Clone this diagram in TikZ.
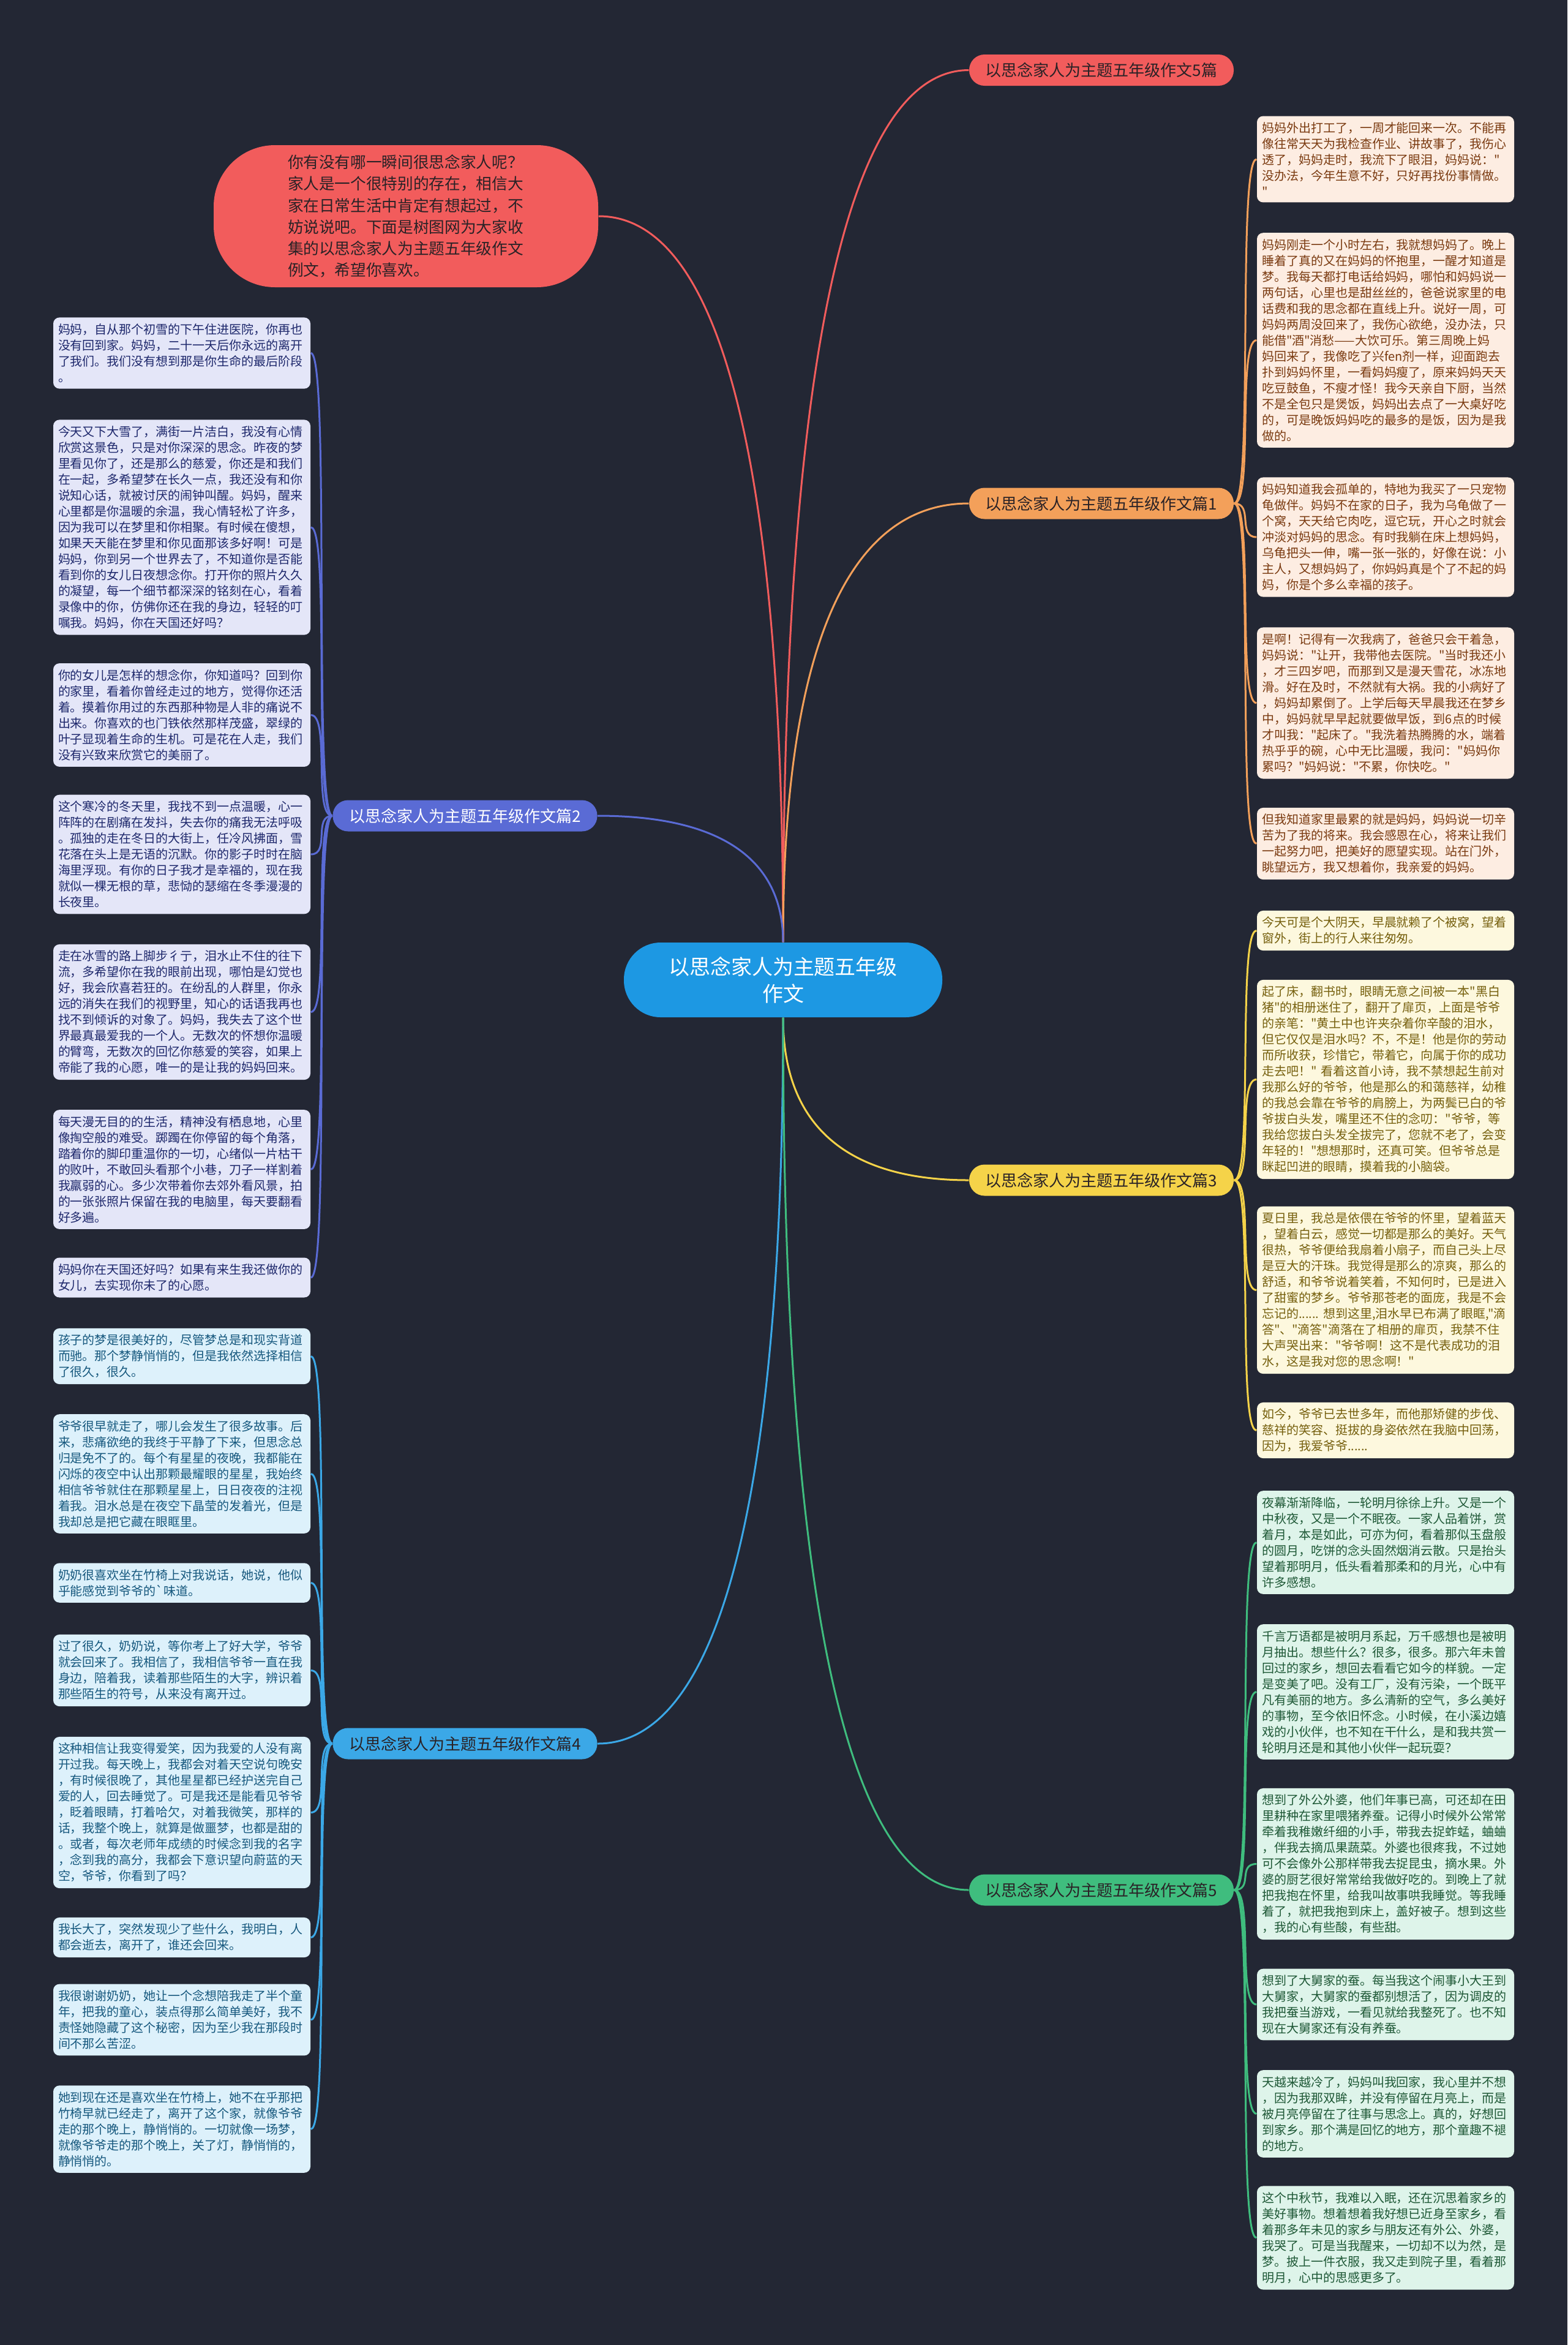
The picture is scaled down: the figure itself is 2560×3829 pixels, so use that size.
\documentclass[tikz,border=0pt]{standalone}
\usepackage{fontspec}
\setmainfont{Noto Sans CJK SC}[Ligatures=TeXOff]
\usetikzlibrary{calc}
\definecolor{bgc}{HTML}{232734}
\definecolor{hubc}{HTML}{1D98E3}
\definecolor{redc}{HTML}{F25C5C}
\definecolor{orangec}{HTML}{F3A05A}
\definecolor{indigoc}{HTML}{5A6BD5}
\definecolor{yellowc}{HTML}{F5D349}
\definecolor{skyc}{HTML}{3BA8E7}
\definecolor{greenc}{HTML}{3FBD7E}
\definecolor{darktxt}{HTML}{2A2226}
\tikzset{
 hub/.style={fill=hubc,text=white,rounded corners=6mm,minimum width=52mm,minimum height=12.2mm,
  align=center,font=\fontsize{9.67pt}{12.5pt}\selectfont},
 intro/.style={fill=redc,text=darktxt,rounded corners=10mm,minimum width=62.8mm,minimum height=23.2mm,
  text width=38.6mm,align=left,font=\fontsize{7.3pt}{10pt}\selectfont},
 branch/.style={text=darktxt,rounded corners=2.5mm,minimum width=43.2mm,minimum height=5.1mm,
  inner sep=0pt,font=\fontsize{7.4pt}{8.5pt}\selectfont},
 leaf/.style={rounded corners=1mm,inner xsep=0.8mm,inner ysep=1mm,text width=40.4mm,align=left,
  font=\fontsize{5.69pt}{7.4pt}\selectfont},
 peach/.style={leaf,fill={rgb,255:red,253;green,237;blue,226},text={rgb,255:red,122;green,58;blue,16}},
 lavender/.style={leaf,fill={rgb,255:red,228;green,230;blue,248},text={rgb,255:red,30;green,40;blue,108}},
 cream/.style={leaf,fill={rgb,255:red,253;green,248;blue,222},text={rgb,255:red,118;green,96;blue,14}},
 sky/.style={leaf,fill={rgb,255:red,221;green,241;blue,251},text={rgb,255:red,22;green,88;blue,126}},
 mint/.style={leaf,fill={rgb,255:red,222;green,244;blue,234},text={rgb,255:red,30;green,88;blue,54}},
 link/.style={line width=0.3mm},
 trunk/.style={to path={.. controls ($(\tikztostart)!.66!(\tikztostart |- \tikztotarget)$)
  and ($(\tikztotarget)!.66!(\tikztostart |- \tikztotarget)$) .. (\tikztotarget)}}
}

\begin{document}
\begin{tikzpicture}[x=0.1mm,y=-0.1mm]
\fill[bgc] (0,0) rectangle (2560,3829);
% centre, intro and branches
\node[hub] (ctr) at (1279,1600) {以思念家人为主题五年级\\作文};
\node[intro] (intro) at (663,353) {你有没有哪一瞬间很思念家人呢？\\
家人是一个很特别的存在，相信大\\
家在日常生活中肯定有想起过，不\\
妨说说吧。下面是树图网为大家收\\
集的以思念家人为主题五年级作文\\
例文，希望你喜欢。};
\node[branch,fill=redc] (b0) at (1799,114.5) {以思念家人为主题五年级作文5篇};
\node[branch,fill=orangec] (b1) at (1799,822) {以思念家人为主题五年级作文篇1};
\node[branch,fill=indigoc,text=white] (b2) at (759.5,1332) {以思念家人为主题五年级作文篇2};
\node[branch,fill=yellowc] (b3) at (1799,1927) {以思念家人为主题五年级作文篇3};
\node[branch,fill=skyc] (b4) at (759.5,2847) {以思念家人为主题五年级作文篇4};
\node[branch,fill=greenc] (b5) at (1799,3086) {以思念家人为主题五年级作文篇5};

% left column, 篇2
\node[lavender] (l1) at (297,576.5) {妈妈，自从那个初雪的下午住进医院，你再也\\
没有回到家。妈妈，二十一天后你永远的离开\\
了我们。我们没有想到那是你生命的最后阶段\\
。};
\node[lavender] (l2) at (297,861) {今天又下大雪了，满街一片洁白，我没有心情\\
欣赏这景色，只是对你深深的思念。昨夜的梦\\
里看见你了，还是那么的慈爱，你还是和我们\\
在一起，多希望梦在长久一点，我还没有和你\\
说知心话，就被讨厌的闹钟叫醒。妈妈，醒来\\
心里都是你温暖的余温，我心情轻松了许多，\\
因为我可以在梦里和你相聚。有时候在傻想，\\
如果天天能在梦里和你见面那该多好啊！可是\\
妈妈，你到另一个世界去了，不知道你是否能\\
看到你的女儿日夜想念你。打开你的照片久久\\
的凝望，每一个细节都深深的铭刻在心，看着\\
录像中的你，仿佛你还在我的身边，轻轻的叮\\
嘱我。妈妈，你在天国还好吗？};
\node[lavender] (l3) at (297,1167.5) {你的女儿是怎样的想念你，你知道吗？回到你\\
的家里，看着你曾经走过的地方，觉得你还活\\
着。摸着你用过的东西那种物是人非的痛说不\\
出来。你喜欢的也门铁依然那样茂盛，翠绿的\\
叶子显现着生命的生机。可是花在人走，我们\\
没有兴致来欣赏它的美丽了。};
\node[lavender] (l4) at (297,1395) {这个寒冷的冬天里，我找不到一点温暖，心一\\
阵阵的在剧痛在发抖，失去你的痛我无法呼吸\\
。孤独的走在冬日的大街上，任冷风拂面，雪\\
花落在头上是无语的沉默。你的影子时时在脑\\
海里浮现。有你的日子我才是幸福的，现在我\\
就似一棵无根的草，悲恸的瑟缩在冬季漫漫的\\
长夜里。};
\node[lavender] (l5) at (297,1652.5) {走在冰雪的路上脚步彳亍，泪水止不住的往下\\
流，多希望你在我的眼前出现，哪怕是幻觉也\\
好，我会欣喜若狂的。在纷乱的人群里，你永\\
远的消失在我们的视野里，知心的话语我再也\\
找不到倾诉的对象了。妈妈，我失去了这个世\\
界最真最爱我的一个人。无数次的怀想你温暖\\
的臂弯，无数次的回忆你慈爱的笑容，如果上\\
帝能了我的心愿，唯一的是让我的妈妈回来。};
\node[lavender] (l6) at (297,1909.5) {每天漫无目的的生活，精神没有栖息地，心里\\
像掏空般的难受。踯躅在你停留的每个角落，\\
踏着你的脚印重温你的一切，心绪似一片枯干\\
的败叶，不敢回头看那个小巷，刀子一样割着\\
我羸弱的心。多少次带着你去郊外看风景，拍\\
的一张张照片保留在我的电脑里，每天要翻看\\
好多遍。};
\node[lavender] (l7) at (297,2086) {妈妈你在天国还好吗？如果有来生我还做你的\\
女儿，去实现你未了的心愿。};

% left column, 篇4
\node[sky] (l8) at (297,2214.5) {孩子的梦是很美好的，尽管梦总是和现实背道\\
而驰。那个梦静悄悄的，但是我依然选择相信\\
了很久，很久。};
\node[sky] (l9) at (297,2406.5) {爷爷很早就走了，哪儿会发生了很多故事。后\\
来，悲痛欲绝的我终于平静了下来，但思念总\\
归是免不了的。每个有星星的夜晚，我都能在\\
闪烁的夜空中认出那颗最耀眼的星星，我始终\\
相信爷爷就住在那颗星星上，日日夜夜的注视\\
着我。泪水总是在夜空下晶莹的发着光，但是\\
我却总是把它藏在眼眶里。};
\node[sky] (l10) at (297,2584.5) {奶奶很喜欢坐在竹椅上对我说话，她说，他似\\
乎能感觉到爷爷的\textasciigrave 味道。};
\node[sky] (l11) at (297,2727.5) {过了很久，奶奶说，等你考上了好大学，爷爷\\
就会回来了。我相信了，我相信爷爷一直在我\\
身边，陪着我，读着那些陌生的大字，辨识着\\
那些陌生的符号，从来没有离开过。};
\node[sky] (l12) at (297,2959.5) {这种相信让我变得爱笑，因为我爱的人没有离\\
开过我。每天晚上，我都会对着天空说句晚安\\
，有时候很晚了，其他星星都已经护送完自己\\
爱的人，回去睡觉了。可是我还是能看见爷爷\\
，眨着眼睛，打着哈欠，对着我微笑，那样的\\
话，我整个晚上，就算是做噩梦，也都是甜的\\
。或者，每次老师年成绩的时候念到我的名字\\
，念到我的高分，我都会下意识望向蔚蓝的天\\
空，爷爷，你看到了吗？};
\node[sky] (l13) at (297,3163.5) {我长大了，突然发现少了些什么，我明白，人\\
都会逝去，离开了，谁还会回来。};
\node[sky] (l14) at (297,3298) {我很谢谢奶奶，她让一个念想陪我走了半个童\\
年，把我的童心，装点得那么简单美好，我不\\
责怪她隐藏了这个秘密，因为至少我在那段时\\
间不那么苦涩。};
\node[sky] (l15) at (297,3476.5) {她到现在还是喜欢坐在竹椅上，她不在乎那把\\
竹椅早就已经走了，离开了这个家，就像爷爷\\
走的那个晚上，静悄悄的。一切就像一场梦，\\
就像爷爷走的那个晚上，关了灯，静悄悄的，\\
静悄悄的。};

% right column, 篇1
\node[peach] (r1) at (2263,260) {妈妈外出打工了，一周才能回来一次。不能再\\
像往常天天为我检查作业、讲故事了，我伤心\\
透了，妈妈走时，我流下了眼泪，妈妈说："\\
没办法，今年生意不好，只好再找份事情做。\\
"};
\node[peach] (r2) at (2263,555.5) {妈妈刚走一个小时左右，我就想妈妈了。晚上\\
睡着了真的又在妈妈的怀抱里，一醒才知道是\\
梦。我每天都打电话给妈妈，哪怕和妈妈说一\\
两句话，心里也是甜丝丝的，爸爸说家里的电\\
话费和我的思念都在直线上升。说好一周，可\\
妈妈两周没回来了，我伤心欲绝，没办法，只\\
能借"酒"消愁——大饮可乐。第三周晚上妈\\
妈回来了，我像吃了兴fen剂一样，迎面跑去\\
扑到妈妈怀里，一看妈妈瘦了，原来妈妈天天\\
吃豆鼓鱼，不瘦才怪！我今天亲自下厨，当然\\
不是全包只是煲饭，妈妈出去点了一大桌好吃\\
的，可是晚饭妈妈吃的最多的是饭，因为是我\\
做的。};
\node[peach] (r3) at (2263,877) {妈妈知道我会孤单的，特地为我买了一只宠物\\
龟做伴。妈妈不在家的日子，我为乌龟做了一\\
个窝，天天给它肉吃，逗它玩，开心之时就会\\
冲淡对妈妈的思念。有时我躺在床上想妈妈，\\
乌龟把头一伸，嘴一张一张的，好像在说：小\\
主人，又想妈妈了，你妈妈真是个了不起的妈\\
妈，你是个多么幸福的孩子。};
\node[peach] (r4) at (2263,1148) {是啊！记得有一次我病了，爸爸只会干着急，\\
妈妈说："让开，我带他去医院。"当时我还小\\
，才三四岁吧，而那到又是漫天雪花，冰冻地\\
滑。好在及时，不然就有大祸。我的小病好了\\
，妈妈却累倒了。上学后每天早晨我还在梦乡\\
中，妈妈就早早起就要做早饭，到6点的时候\\
才叫我："起床了。"我洗着热腾腾的水，端着\\
热乎乎的碗，心中无比温暖，我问："妈妈你\\
累吗？"妈妈说："不累，你快吃。"};
\node[peach] (r5) at (2263,1377.5) {但我知道家里最累的就是妈妈，妈妈说一切辛\\
苦为了我的将来。我会感恩在心，将来让我们\\
一起努力吧，把美好的愿望实现。站在门外，\\
眺望远方，我又想着你，我亲爱的妈妈。};

% right column, 篇3
\node[cream] (r6) at (2263,1519.5) {今天可是个大阴天，早晨就赖了个被窝，望着\\
窗外，街上的行人来往匆匆。};
\node[cream] (r7) at (2263,1762.5) {起了床，翻书时，眼睛无意之间被一本"黑白\\
猪"的相册迷住了，翻开了扉页，上面是爷爷\\
的亲笔："黄土中也许夹杂着你辛酸的泪水，\\
但它仅仅是泪水吗？不，不是！他是你的劳动\\
而所收获，珍惜它，带着它，向属于你的成功\\
走去吧！"~看着这首小诗，我不禁想起生前对\\
我那么好的爷爷，他是那么的和蔼慈祥，幼稚\\
的我总会靠在爷爷的肩膀上，为两鬓已白的爷\\
爷拔白头发，嘴里还不住的念叨："爷爷，等\\
我给您拔白头发全拔完了，您就不老了，会变\\
年轻的！"想想那时，还真可笑。但爷爷总是\\
眯起凹进的眼睛，摸着我的小脑袋。};
\node[cream] (r8) at (2263,2106.5) {夏日里，我总是依偎在爷爷的怀里，望着蓝天\\
，望着白云，感觉一切都是那么的美好。天气\\
很热，爷爷便给我扇着小扇子，而自己头上尽\\
是豆大的汗珠。我觉得是那么的凉爽，那么的\\
舒适，和爷爷说着笑着，不知何时，已是进入\\
了甜蜜的梦乡。爷爷那苍老的面庞，我是不会\\
忘记的......~想到这里,泪水早已布满了眼眶,"滴\\
答"、"滴答"滴落在了相册的扉页，我禁不住\\
大声哭出来："爷爷啊！这不是代表成功的泪\\
水，这是我对您的思念啊！"};
\node[cream] (r9) at (2263,2335.5) {如今，爷爷已去世多年，而他那矫健的步伐、\\
慈祥的笑容、挺拔的身姿依然在我脑中回荡，\\
因为，我爱爷爷......};

% right column, 篇5
\node[mint] (r10) at (2263,2518.5) {夜幕渐渐降临，一轮明月徐徐上升。又是一个\\
中秋夜，又是一个不眠夜。一家人品着饼，赏\\
着月，本是如此，可亦为何，看着那似玉盘般\\
的圆月，吃饼的念头固然烟消云散。只是抬头\\
望着那明月，低头看着那柔和的月光，心中有\\
许多感想。};
\node[mint] (r11) at (2263,2762.5) {千言万语都是被明月系起，万千感想也是被明\\
月抽出。想些什么？很多，很多。那六年未曾\\
回过的家乡，想回去看看它如今的样貌。一定\\
是变美了吧。没有工厂，没有污染，一个既平\\
凡有美丽的地方。多么清新的空气，多么美好\\
的事物，至今依旧怀念。小时候，在小溪边嬉\\
戏的小伙伴，也不知在干什么，是和我共赏一\\
轮明月还是和其他小伙伴一起玩耍？};
\node[mint] (r12) at (2263,3043.5) {想到了外公外婆，他们年事已高，可还却在田\\
里耕种在家里喂猪养蚕。记得小时候外公常常\\
牵着我稚嫩纤细的小手，带我去捉蚱蜢，蛐蛐\\
，伴我去摘瓜果蔬菜。外婆也很疼我，不过她\\
可不会像外公那样带我去捉昆虫，摘水果。外\\
婆的厨艺很好常常给我做好吃的。到晚上了就\\
把我抱在怀里，给我叫故事哄我睡觉。等我睡\\
着了，就把我抱到床上，盖好被子。想到这些\\
，我的心有些酸，有些甜。};
\node[mint] (r13) at (2263,3273) {想到了大舅家的蚕。每当我这个闹事小大王到\\
大舅家，大舅家的蚕都别想活了，因为调皮的\\
我把蚕当游戏，一看见就给我整死了。也不知\\
现在大舅家还有没有养蚕。};
\node[mint] (r14) at (2263,3451.5) {天越来越冷了，妈妈叫我回家，我心里并不想\\
，因为我那双眸，并没有停留在月亮上，而是\\
被月亮停留在了往事与思念上。真的，好想回\\
到家乡。那个满是回忆的地方，那个童趣不褪\\
的地方。};
\node[mint] (r15) at (2263,3654) {这个中秋节，我难以入眠，还在沉思着家乡的\\
美好事物。想着想着我好想已近身至家乡，看\\
着那多年未见的家乡与朋友还有外公、外婆，\\
我哭了。可是当我醒来，一切却不以为然，是\\
梦。披上一件衣服，我又走到院子里，看着那\\
明月，心中的思感更多了。};

% trunk lines from the centre
\draw[link,redc] (ctr.north) to[trunk] (intro.east);
\draw[link,redc] (ctr.north) to[trunk] (b0.west);
\draw[link,orangec] (ctr.north) to[trunk] (b1.west);
\draw[link,indigoc] (ctr.north) to[trunk] (b2.east);
\draw[link,yellowc] (ctr.south) to[trunk] (b3.west);
\draw[link,skyc] (ctr.south) to[trunk] (b4.east);
\draw[link,greenc] (ctr.south) to[trunk] (b5.west);

% twigs to the text boxes
\foreach \n in {r1,r2,r3,r4,r5}
 \draw[link,orangec] (b1.east) .. controls +(32,0) and +(-32,0) .. (\n.west);
\foreach \n in {r6,r7,r8,r9}
 \draw[link,yellowc] (b3.east) .. controls +(32,0) and +(-32,0) .. (\n.west);
\foreach \n in {r10,r11,r12,r13,r14,r15}
 \draw[link,greenc] (b5.east) .. controls +(32,0) and +(-32,0) .. (\n.west);
\foreach \n in {l1,l2,l3,l4,l5,l6,l7}
 \draw[link,indigoc] (b2.west) .. controls +(-32,0) and +(32,0) .. (\n.east);
\foreach \n in {l8,l9,l10,l11,l12,l13,l14,l15}
 \draw[link,skyc] (b4.west) .. controls +(-32,0) and +(32,0) .. (\n.east);
\end{tikzpicture}
\end{document}
